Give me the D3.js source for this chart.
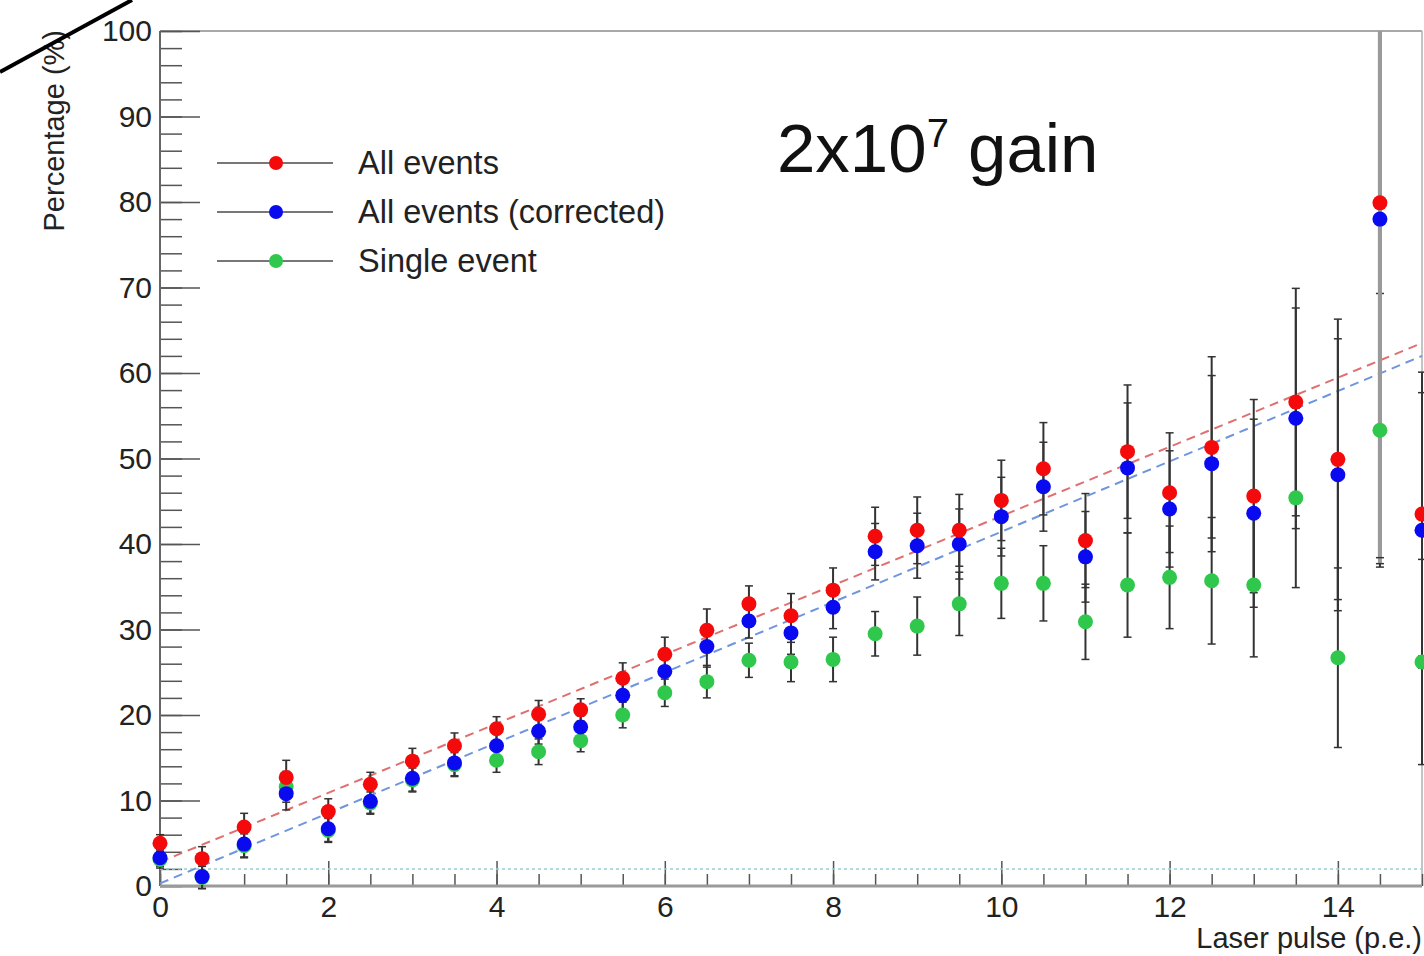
<!DOCTYPE html>
<html>
<head>
<meta charset="utf-8">
<script src="https://cdn.jsdelivr.net/npm/d3@7"></script>
<style>
  body { margin: 0; background: #fff; }
  svg { display: block; font-family: "Liberation Sans", Arial, sans-serif; }
</style>
</head>
<body>
<div id="d3-container"></div>
<script>
/* DATA */
const pulses = [0, 0.5, 1, 1.5, 2, 2.5, 3, 3.5, 4, 4.5, 5, 5.5, 6, 6.5, 7, 7.5,
  8, 8.5, 9, 9.5, 10, 10.5, 11, 11.5, 12, 12.5, 13, 13.5, 14, 14.5, 15];

const allEvents = [5.0, 3.2, 6.9, 12.7, 8.7, 11.9, 14.6, 16.4, 18.4, 20.1, 20.6, 24.3, 27.1, 29.9, 33.0, 31.6,
  34.6, 40.9, 41.6, 41.6, 45.1, 48.8, 40.4, 50.8, 46.0, 51.3, 45.6, 56.6, 49.9, 79.9, 43.5];
const allEventsErr = [1.0, 1.4, 1.6, 2.0, 1.5, 1.4, 1.5, 1.5, 1.4, 1.6, 1.3, 1.8, 2.0, 2.5, 2.1, 2.6,
  2.6, 3.4, 3.9, 4.2, 4.7, 5.4, 5.5, 7.8, 7.0, 10.6, 11.3, 13.3, 16.4, 41.5, 16.6];

const corrected = [3.3, 1.1, 4.9, 10.8, 6.7, 9.9, 12.6, 14.4, 16.4, 18.1, 18.6, 22.3, 25.1, 28.0, 31.0, 29.6,
  32.6, 39.1, 39.8, 40.0, 43.2, 46.7, 38.5, 48.9, 44.1, 49.4, 43.6, 54.7, 48.1, 78.0, 41.6];
const correctedErr = [1.0, 1.4, 1.5, 1.9, 1.5, 1.4, 1.5, 1.5, 1.4, 1.5, 1.3, 1.7, 1.9, 2.4, 2.0, 2.5,
  2.5, 3.3, 3.8, 4.1, 4.6, 5.2, 5.3, 7.6, 6.8, 10.3, 11.0, 12.9, 15.9, 40.3, 16.1];

const singleEvent = [3.1, 1.0, 4.7, 11.6, 6.5, 9.7, 12.4, 14.2, 14.7, 15.7, 17.0, 20.0, 22.6, 23.9, 26.4, 26.2,
  26.5, 29.5, 30.4, 33.0, 35.4, 35.4, 30.9, 35.2, 36.1, 35.7, 35.2, 45.4, 26.7, 53.3, 26.2];
const singleEventErr = [1.0, 1.3, 1.4, 1.8, 1.4, 1.3, 1.4, 1.4, 1.4, 1.5, 1.3, 1.5, 1.6, 1.9, 2.0, 2.3,
  2.6, 2.6, 3.4, 3.7, 4.1, 4.4, 4.4, 6.1, 6.0, 7.4, 8.4, 10.5, 10.5, 16.0, 12.0];

// linear fits: [value at 0, value at 15]
const fitAll = [2.8, 63.5];
const fitCorrected = [0.3, 62.0];
const thresholdLevel = 2.0;

const xMajorTicks = [0, 2, 4, 6, 8, 10, 12, 14];
const xMinorTicks = d3.range(0, 15.01, 0.5);
const yMajorTicks = [0, 10, 20, 30, 40, 50, 60, 70, 80, 90, 100];
const yMinorTicks = d3.range(0, 100.01, 2);

const legendLabels = ["All events", "All events (corrected)", "Single event"];

/* CONSTANTS */
const width = 1424, height = 956;
const margin = { top: 31, right: 2, bottom: 70, left: 160 };
const colors = { all: "#f40a0a", corr: "#0a0af0", single: "#30c84c" };

const svg = d3.select("#d3-container")
  .append("svg")
  .attr("width", width)
  .attr("height", height);

const x = d3.scaleLinear().domain([0, 15]).range([margin.left, width - margin.right]);
const y = d3.scaleLinear().domain([0, 100]).range([height - margin.bottom, margin.top]);

/* FRAME */
svg.append("line")
  .attr("x1", x(0)).attr("x2", x(15)).attr("y1", y(100)).attr("y2", y(100))
  .attr("stroke", "#a8a8a8").attr("stroke-width", 2);
svg.append("line")
  .attr("x1", x(15)).attr("x2", x(15)).attr("y1", y(100)).attr("y2", y(0))
  .attr("stroke", "#b0b0b0").attr("stroke-width", 1.5);

/* AXES */
function styleAxis(g) {
  g.select(".domain").remove();
  g.selectAll(".tick line").attr("stroke", "#555").attr("stroke-width", 1.5);
  g.selectAll(".tick text").attr("fill", "#222").style("font-size", "30px");
}

svg.append("g")
  .attr("transform", `translate(0,${y(0)})`)
  .call(d3.axisBottom(x).tickValues(xMinorTicks).tickSize(-12).tickFormat(""))
  .call(styleAxis);
svg.append("g")
  .attr("transform", `translate(0,${y(0)})`)
  .call(d3.axisBottom(x).tickValues(xMajorTicks).tickSize(-25).tickPadding(10).tickFormat(d3.format("d")))
  .call(styleAxis);

svg.append("g")
  .attr("transform", `translate(${x(0)},0)`)
  .call(d3.axisLeft(y).tickValues(yMinorTicks).tickSize(-22).tickFormat(""))
  .call(styleAxis);
svg.append("g")
  .attr("transform", `translate(${x(0)},0)`)
  .call(d3.axisLeft(y).tickValues(yMajorTicks).tickSize(-40).tickPadding(8).tickFormat(d3.format("d")))
  .call(styleAxis);

svg.append("line")
  .attr("x1", x(0)).attr("x2", x(0)).attr("y1", y(100)).attr("y2", y(0))
  .attr("stroke", "#666").attr("stroke-width", 2);
svg.append("line")
  .attr("x1", x(0)).attr("x2", x(15)).attr("y1", y(0)).attr("y2", y(0))
  .attr("stroke", "#9a9a9a").attr("stroke-width", 3);

svg.append("text")
  .attr("transform", "translate(64,30) rotate(-90)")
  .attr("text-anchor", "end")
  .attr("fill", "#222")
  .style("font-size", "29px")
  .text("Percentage (%)");

svg.append("text")
  .attr("x", x(15))
  .attr("y", 948)
  .attr("text-anchor", "end")
  .attr("fill", "#222")
  .style("font-size", "29px")
  .text("Laser pulse (p.e.)");

/* THRESHOLD AND FITS */
svg.append("line")
  .attr("x1", x(0)).attr("x2", x(15))
  .attr("y1", y(thresholdLevel)).attr("y2", y(thresholdLevel))
  .attr("stroke", "#9ccfcf").attr("stroke-width", 1.5)
  .attr("stroke-dasharray", "3,3");

const fits = [[fitCorrected, "#6f95df"], [fitAll, "#e07070"]];
fits.forEach(([f, c]) => {
  svg.append("line")
    .attr("x1", x(0)).attr("y1", y(f[0]))
    .attr("x2", x(15)).attr("y2", y(f[1]))
    .attr("stroke", c).attr("stroke-width", 2)
    .attr("stroke-dasharray", "9,6");
});

/* ERROR BARS AND MARKERS */
const series = [
  { vals: singleEvent, errs: singleEventErr, color: colors.single },
  { vals: corrected, errs: correctedErr, color: colors.corr },
  { vals: allEvents, errs: allEventsErr, color: colors.all }
];

const clipTop = v => Math.min(v, 100);

series.forEach(s => {
  const pts = pulses.map((p, i) => ({ p, v: s.vals[i], e: s.errs[i] }));
  const g = svg.append("g");
  g.selectAll("line.bar")
    .data(pts)
    .join("line")
    .attr("class", "bar")
    .attr("x1", d => x(d.p)).attr("x2", d => x(d.p))
    .attr("y1", d => y(clipTop(d.v + d.e))).attr("y2", d => y(d.v - d.e))
    .attr("stroke", d => d.e > 30 ? "#9a9a9a" : "#333")
    .attr("stroke-width", d => d.e > 30 ? 4 : 2);
  g.selectAll("line.capTop")
    .data(pts.filter(d => d.v + d.e < 100))
    .join("line")
    .attr("class", "capTop")
    .attr("x1", d => x(d.p) - 4).attr("x2", d => x(d.p) + 4)
    .attr("y1", d => y(d.v + d.e)).attr("y2", d => y(d.v + d.e))
    .attr("stroke", "#333").attr("stroke-width", 1.5);
  g.selectAll("line.capBot")
    .data(pts)
    .join("line")
    .attr("class", "capBot")
    .attr("x1", d => x(d.p) - 4).attr("x2", d => x(d.p) + 4)
    .attr("y1", d => y(d.v - d.e)).attr("y2", d => y(d.v - d.e))
    .attr("stroke", "#333").attr("stroke-width", 1.5);
});

series.forEach(s => {
  svg.append("g")
    .selectAll("circle")
    .data(pulses.map((p, i) => ({ p, v: s.vals[i] })))
    .join("circle")
    .attr("cx", d => x(d.p))
    .attr("cy", d => y(d.v))
    .attr("r", 7.5)
    .attr("fill", s.color);
});

/* LEGEND */
const legendColors = [colors.all, colors.corr, colors.single];
const legend = svg.append("g");
legendLabels.forEach((label, i) => {
  const ly = 163 + i * 49;
  legend.append("line")
    .attr("x1", 217).attr("x2", 333).attr("y1", ly).attr("y2", ly)
    .attr("stroke", "#777").attr("stroke-width", 2);
  legend.append("circle")
    .attr("cx", 276).attr("cy", ly).attr("r", 7)
    .attr("fill", legendColors[i]);
  legend.append("text")
    .attr("x", 358).attr("y", ly + 11)
    .attr("fill", "#222")
    .style("font-size", "32.5px")
    .text(label);
});

/* TITLE */
const title = svg.append("text")
  .attr("x", 777).attr("y", 172)
  .attr("fill", "#111")
  .style("font-size", "69px");
title.append("tspan").text("2x10");
title.append("tspan").attr("dy", -25).style("font-size", "40px").text("7");
title.append("tspan").attr("dy", 25).text(" gain");

/* ANNOTATION STROKE */
svg.append("line")
  .attr("x1", 0).attr("y1", 72).attr("x2", 132).attr("y2", 0)
  .attr("stroke", "#000").attr("stroke-width", 4);
</script>
</body>
</html>
